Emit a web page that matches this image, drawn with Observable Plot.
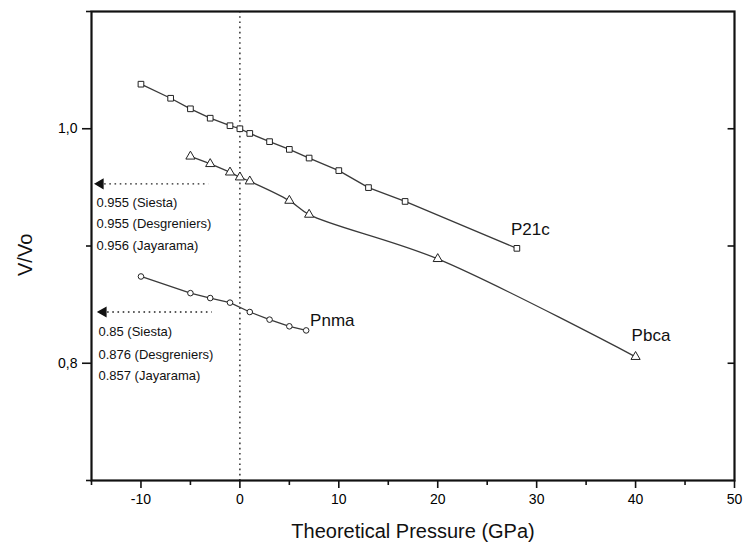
<!DOCTYPE html>
<html>
<head>
<meta charset="utf-8">
<script src="https://cdn.jsdelivr.net/npm/d3@7"></script>
<script src="https://cdn.jsdelivr.net/npm/@observablehq/plot@0.6"></script>
<style>
  html, body { margin: 0; padding: 0; background: #fff; }
  #chart svg { display: block; font-family: "Liberation Sans", Arial, sans-serif; }
</style>
</head>
<body>
<div id="chart"></div>
<script>
// P21c (squares)
const p21cP = [-10, -7, -5, -3, -1, 0, 1, 3, 5, 7, 10, 13, 16.7, 28];
const p21cV = [1.038, 1.026, 1.017, 1.009, 1.0026, 1.0, 0.996, 0.989, 0.9824, 0.975, 0.9643, 0.9498, 0.938, 0.898];
// Pbca (triangles)
const pbcaP = [-5, -3, -1, 0, 1, 5, 7, 20, 40];
const pbcaV = [0.9764, 0.970, 0.9628, 0.9586, 0.9552, 0.9387, 0.9268, 0.889, 0.8055];
// Pnma (circles)
const pnmaP = [-10, -5, -3, -1, 1, 3, 5, 6.7];
const pnmaV = [0.874, 0.8598, 0.8556, 0.8517, 0.8437, 0.8372, 0.8315, 0.828];
// ticks
const xMajor = [-10, 0, 10, 20, 30, 40, 50];
const xMinor = [-15, -5, 5, 15, 25, 35, 45];
const yMajor = [0.8, 1.0];
const yMinor = [0.7, 0.9, 1.1];
// annotation values (zero-pressure V/Vo from references)
const upperNotes = ["0.955 (Siesta)", "0.955 (Desgreniers)", "0.956 (Jayarama)"];
const lowerNotes = ["0.85 (Siesta)", "0.876 (Desgreniers)", "0.857 (Jayarama)"];
const arrowLevels = [0.953, 0.8437];

const zip = (xs, ys) => xs.map((x, i) => ({x, y: ys[i]}));
const p21c = zip(p21cP, p21cV);
const pbca = zip(pbcaP, pbcaV);
const pnma = zip(pnmaP, pnmaV);

const lineColor = "#3a3a3a";
const font = "Liberation Sans, Arial, sans-serif";
const dotted = {stroke: "#222", strokeWidth: 1.4, strokeDasharray: "1.6,3.6"};

const chart = Plot.plot({
  width: 744,
  height: 551,
  marginLeft: 91,
  marginRight: 10,
  marginTop: 11,
  marginBottom: 71,
  style: {fontFamily: font, background: "#fff"},
  x: {domain: [-15, 50], axis: null},
  y: {domain: [0.7, 1.1], axis: null},
  marks: [
    // dotted zero-pressure line
    Plot.ruleX([0], dotted),
    // dotted arrows
    Plot.ruleY([arrowLevels[0]], {x1: -14.2, x2: -3.15, ...dotted}),
    Plot.ruleY([arrowLevels[1]], {x1: -13.9, x2: -2.8, ...dotted}),
    Plot.dot([{x: -14.1, y: arrowLevels[0]}], {x: "x", y: "y", symbol: "triangle", r: 3.2, rotate: -90, fill: "#111", stroke: "#111"}),
    Plot.dot([{x: -13.8, y: arrowLevels[1]}], {x: "x", y: "y", symbol: "triangle", r: 3.2, rotate: -90, fill: "#111", stroke: "#111"}),
    // series lines
    Plot.line(p21c, {x: "x", y: "y", stroke: lineColor, strokeWidth: 1.3}),
    Plot.line(pbca, {x: "x", y: "y", stroke: lineColor, strokeWidth: 1.3, curve: "catmull-rom"}),
    Plot.line(pnma, {x: "x", y: "y", stroke: lineColor, strokeWidth: 1.3}),
    // markers
    Plot.dot(p21c, {x: "x", y: "y", symbol: "square", r: 3.2, fill: "#fff", stroke: "#222", strokeWidth: 1}),
    Plot.dot(pbca, {x: "x", y: "y", symbol: "triangle", r: 3.4, fill: "#fff", stroke: "#222", strokeWidth: 1}),
    Plot.dot(pnma, {x: "x", y: "y", symbol: "circle", r: 2.8, fill: "#fff", stroke: "#222", strokeWidth: 1}),
    // phase labels
    Plot.text(["P21c"], {x: 27.4, y: 0.914, text: d => d, textAnchor: "start", fontSize: 17, fill: "#111"}),
    Plot.text(["Pbca"], {x: 39.6, y: 0.824, text: d => d, textAnchor: "start", fontSize: 17, fill: "#111"}),
    Plot.text(["Pnma"], {x: 7.1, y: 0.836, text: d => d, textAnchor: "start", fontSize: 17, fill: "#111"}),
    // notes
    Plot.text(upperNotes, {x: -14.5, y: (d, i) => [0.9364, 0.9191, 0.9004][i], text: d => d, textAnchor: "start", fontSize: 13, fill: "#111"}),
    Plot.text(lowerNotes, {x: -14.3, y: (d, i) => [0.8266, 0.8068, 0.789][i], text: d => d, textAnchor: "start", fontSize: 13, fill: "#111"}),
    // axes
    Plot.axisX({ticks: xMajor, tickSize: 8, tickPadding: 6, fontSize: 14, stroke: "#111", strokeWidth: 1.6, tickFormat: d => String(d), label: null}),
    Plot.axisX({ticks: xMinor, tickSize: 5, text: null, stroke: "#111", strokeWidth: 1.6, label: null}),
    Plot.axisY({ticks: yMajor, tickSize: 9, tickPadding: 5, fontSize: 14, stroke: "#111", strokeWidth: 1.6, tickFormat: d => d.toFixed(1).replace(".", ","), label: null}),
    Plot.axisY({ticks: yMinor, tickSize: 5, text: null, stroke: "#111", strokeWidth: 1.6, label: null}),
    Plot.ruleY([0.8, 0.9, 1.0], {x1: 49.35, x2: 50, stroke: "#111", strokeWidth: 1.6}),
    Plot.frame({stroke: "#111", strokeWidth: 2.2}),
    // axis titles
    Plot.text(["Theoretical Pressure (GPa)"], {frameAnchor: "bottom", dy: 57, text: d => d, fontSize: 20, fill: "#111"}),
    Plot.text(["V/Vo"], {frameAnchor: "left", dx: -66, dy: 30, rotate: -90, text: d => d, fontSize: 20, fill: "#111"})
  ]
});
document.getElementById("chart").appendChild(chart);
</script>
</body>
</html>
